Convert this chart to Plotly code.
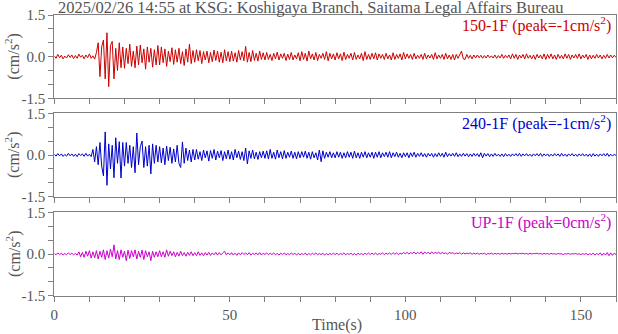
import plotly.graph_objects as go

# sampling interval of the traces (s)
DT = 0.5

# acceleration traces, in 0.01 cm/s^2
ns_150 = [
    3, -6, 8, -4, 5, -8, 2, -5, 7, -3, 6, -7, 4, -6, 9, -2, 5, -8, 6, -4, 10, -6, 3, -9,
    15, 50, -72, 35, 60, -80, 86, -108, 40, 55, -80, 30, -50, 50, -40, 35,
    -42, 30, -25, 45, -35, 20, -40, 38, -30, 42, -22, 28, -45, 35, -20, 30, -38, 25, -30, 40,
    -30, 35, -22, 28, -35, 20, -18, 32, -28, 25, -20, 30, -25, 18, -32, 28, -20, 45, -25, 22,
    -20, 25, -15, 22, -25, 18, -12, 20, -22, 15, -18, 24, -14, 20, -20, 16, -22, 25, -15, 18,
    -18, 20, -16, 14, -20, 22, -12, 18, -15, 37, -20, 15, -18, 22, -14, 12, -16, 20, -10, 14,
    -12, 15, -10, 8, -14, 12, -8, 16, -12, 10, -6, 12, -14, 9, -10, 15, -12, 6, -8, 14,
    -15, 18, -10, 12, -16, 20, -8, 10, -12, 15, -14, 8, -6, 12, -10, 18, -15, 12, -8, 10,
    -12, 14, -8, 10, -14, 16, -10, 8, -6, 12, -12, 15, -10, 6, -8, 12, -14, 18, -10, 8,
    -10, 12, -8, 14, -12, 10, -6, 8, -10, 12, -8, 6, -12, 14, -10, 8, -6, 10, -12, 15,
    -8, 10, -6, 8, -10, 12, -8, 5, -6, 8, -10, 12, -8, 6, -5, 8, -10, 14, -8, 6,
    -6, 8, -10, 12, -8, 6, -10, 8, -12, 8, -6, 10, 20, -8, -10, 8, -6, 5, -8, 6,
    -5, 6, -4, 5, -6, 4, -5, 6, -4, 3, -5, 6, -6, 4, -5, 8, -6, 5, -4, 6,
    -8, 10, -6, 8, -10, 6, -5, 8, -8, 10, -6, 5, -8, 6, -10, 8, -5, 6, -8, 10,
    -10, 8, -6, 10, -8, 6, -10, 8, -6, 5, -8, 10, -6, 8, -10, 6, -5, 8, -6, 10,
    -8, 6, -5, 8, -10, 6, -8, 5, -6, 8, -5, 6, -8, 5, -6, 8, -5, 6, -4, 5, -3,
]

ew_240 = [
    3, -4, 5, -3, 4, -5, 2, -4, 6, -3, 4, -5, 3, -6, 5, -2, 4, -5, 6, -4, 3, -6,
    20, -25, 30, -35, 45, -40, -75, 83, -109, 40, -50, 35, -82, 62, -30, 48, -83, 45,
    -40, 45, -30, 35, -45, 30, -64, 79, -35, 30, 50, -45, 30, -40, 35, -68, 40, -30, 35, -25,
    30, -28, 25, -35, 32, -20, 28, -30, 22, -25, 35, -30, -45, 47, -30, 25, -20, 18, -25, 20,
    -18, 20, -15, 12, -20, 18, -10, 15, -22, 16, -12, 20, -18, 14, -10, 16, -20, 12, -14, 18,
    -15, 12, -18, 20, -10, 14, -16, 12, -20, 25, -32, 15, -12, 18, -14, 10, -16, 12, -10, 14,
    -12, 15, -14, 20, -12, 10, -15, 18, -10, 12, -14, 16, -12, 10, -8, 14, -12, 10, -14, 12,
    -10, 12, -8, 14, -12, 10, -15, 12, -10, 8, -18, 18, -24, 15, -12, 10, -8, 12, -10, 8,
    -10, 12, -8, 10, -12, 8, -10, 12, -8, 10, -12, 14, -10, 8, -12, 10, -8, 12, -10, 8,
    -8, 10, -12, 10, -8, 12, -10, 8, -6, 10, -8, 12, -10, 8, -6, 10, -8, 6, -10, 8,
    -6, 8, -10, 8, -6, 10, -8, 6, -5, 8, -6, 5, -8, 6, -4, 6, -8, 5, -6, 8,
    -5, 6, -8, 10, -6, 5, -4, 6, -5, 8, -6, 4, -5, 6, -4, 5, -6, 4, -5, 6,
    -4, 5, -6, 8, -10, 6, -4, 5, -6, 4, -5, 6, -4, 3, -5, 4, -6, 5, -4, 3,
    -5, 4, -3, 5, -4, 6, -5, 4, -3, 5, -4, 3, -5, 4, -3, 5, -4, 6, -5, 4,
    -3, 4, -5, 3, -4, 5, -3, 4, -5, 6, -4, 3, -5, 4, -3, 5, -4, 3, -5, 4,
    -3, 5, -4, 3, -5, 4, -6, 5, -4, 3, -5, 4, -3, 5, -4, 6, -5, 3, -4, 3, -2,
]

ud_up = [
    2, -3, 4, -2, 3, -4, 2, -3, 4, -2, 3, -3, 2, -4,
    8, -10, 6, -12, 10, -8, 12, -15, 8, -14, 12, -18, 10, -12, 15, -20, 12, -15, 18, -10,
    33, -18, 12, -20, 15, -12, 10, -24, 14, -16, 12, -10, 15, -18, 10, -12, 14, -20, 12, -10,
    8, -24, 10, -12, 8, -10,
    12, -10, 8, -12, 15, -8, 10, -6, 8, -10, 6, -8, 10, -6, 5, -8, 6, -5, 8, -6,
    5, -6, 8, -5, 4, -6, 5, -4, 6, -5, 4, -3, 6, -4, 5, -3, 4, 10, -3, 4,
    -3, 5, -4, 3, -5, 4, -3, 5, -2, 4, -3, 5, -4, 3, -2, 4, -3, 5, -4, 3,
    -2, 4, -3, 3, -2, 4, -3, 2, -4, 3, -2, 4, -3, 2, -3, 4, -2, 3, -4, 2,
    -3, 2, -2, 3, -4, 2, -3, 3, -2, 4, -3, 2, -2, 3, -4, 2, -3, 2, -2, 3,
    -2, 3, -3, 2, -2, 4, -3, 2, -2, 3, -3, 2, -4, 3, -2, 2, -3, 3, -2, 4,
    -2, 3, -2, 4, -3, 2, -1, 4, -2, 3, -1, 4, -2, 5, -1, 4, -2, 3, 0, 5,
    1, 6, 0, 5, 2, 7, 0, 6, 1, 8, -1, 7, 2, 6, 0, 8, 1, 6, 2, 7,
    0, 6, 1, 5, -1, 6, 2, 5, 0, 4, 1, 5, -1, 4, 0, 3, 1, 4, -1, 3,
    0, 3, -1, 2, 0, 3, -2, 2, 0, 3, -1, 2, 0, 2, -1, 3, 0, 2, -1, 3,
    0, 2, 1, 3, 0, 2, 1, 3, 0, 2, -1, 3, 0, 2, 1, 3, 0, 2, -1, 2,
    0, 2, -1, 2, 0, 1, -1, 2, 0, 1, -2, 1, 0, 2, -1, 1, 0, 2, -1, 1,
    -2, 1, -1, 2, -3, 1, -2, 3, -4, 2, -3, 4, -5, 3, -4, 5, -6, 4, -5, 3, -2,
]

traces = [
    ("150-1F (peak=-1cm/s<sup>2</sup>)", ns_150, "#cc0000"),
    ("240-1F (peak=-1cm/s<sup>2</sup>)", ew_240, "#0000cc"),
    ("UP-1F (peak=0cm/s<sup>2</sup>)", ud_up, "#cc00cc"),
]

title = "2025/02/26 14:55 at KSG: Koshigaya Branch, Saitama Legal Affairs Bureau"
x_ticks = list(range(0, 161, 10))
y_ticks = [-1.5, -1.0, -0.5, 0.0, 0.5, 1.0, 1.5]
y_labels = ["-1.5", "", "", "0.0", "", "", "1.5"]

W, H = 618, 334
FONT = "Liberation Serif"
GREY = "#808080"
TXT = "#555555"

# panel positions in pixels (top, bottom)
panels = [(15, 98.3), (113.3, 196.7), (212.3, 295.7)]
x0, x1 = 54.3, 616

fig = go.Figure()
for i, (label, vals, col) in enumerate(traces):
    n = i + 1
    xa = "x" if n == 1 else f"x{n}"
    ya = "y" if n == 1 else f"y{n}"
    t = [k * DT for k in range(len(vals))]
    fig.add_trace(go.Scatter(x=t, y=[v / 100 for v in vals], mode="lines",
                             line=dict(color=col, width=1), xaxis=xa, yaxis=ya,
                             showlegend=False, hoverinfo="skip"))
    top, bot = panels[i]
    last = n == 3
    fig.layout[f"xaxis{'' if n == 1 else n}"] = dict(
        domain=[x0 / W, x1 / W], anchor=ya, range=[0, 160], automargin=False,
        tickvals=x_ticks,
        ticktext=[str(v) if (last and v % 50 == 0) else "" for v in x_ticks],
        ticks="outside", ticklen=5, tickcolor=GREY, showline=True, linecolor=GREY,
        linewidth=1, mirror=True, showgrid=False, zeroline=False,
        tickfont=dict(family=FONT, size=15, color=TXT),
    )
    fig.layout[f"yaxis{'' if n == 1 else n}"] = dict(
        domain=[1 - bot / H, 1 - top / H], anchor=xa, range=[-1.5, 1.5], automargin=False,
        tickvals=y_ticks, ticktext=y_labels,
        ticks="outside", ticklen=5, tickcolor=GREY, showline=True, linecolor=GREY,
        linewidth=1, mirror=True, showgrid=False, zeroline=False,
        tickfont=dict(family=FONT, size=15, color=TXT),
    )
    fig.add_annotation(text=label, xref="paper", yref="paper",
                       x=613 / W, y=1 - (top + 9.5) / H, xanchor="right", yanchor="middle",
                       showarrow=False, font=dict(family=FONT, size=16, color=col))
    fig.add_annotation(text="(cm/s<sup>2</sup>)", xref="paper", yref="paper",
                       x=13 / W, y=1 - (top + bot) / 2 / H, xanchor="center", yanchor="middle",
                       textangle=-90, showarrow=False,
                       font=dict(family=FONT, size=16, color=TXT))

fig.add_annotation(text=title, xref="paper", yref="paper", x=56 / W, y=1 - 7.5 / H,
                   xanchor="left", yanchor="middle", showarrow=False,
                   font=dict(family=FONT, size=16.5, color=TXT))
fig.add_annotation(text="Time(s)", xref="paper", yref="paper", x=337 / W, y=1 - 325 / H,
                   xanchor="center", yanchor="middle", showarrow=False,
                   font=dict(family=FONT, size=16, color=TXT))

fig.update_layout(width=W, height=H, margin=dict(l=0, r=0, t=0, b=0),
                  plot_bgcolor="white", paper_bgcolor="white")

# the page body has a default 8px margin; drop it so the figure fills the window
fig.write_html("out.html", config={"displayModeBar": False},
               post_script="document.body.style.margin='0px';")
